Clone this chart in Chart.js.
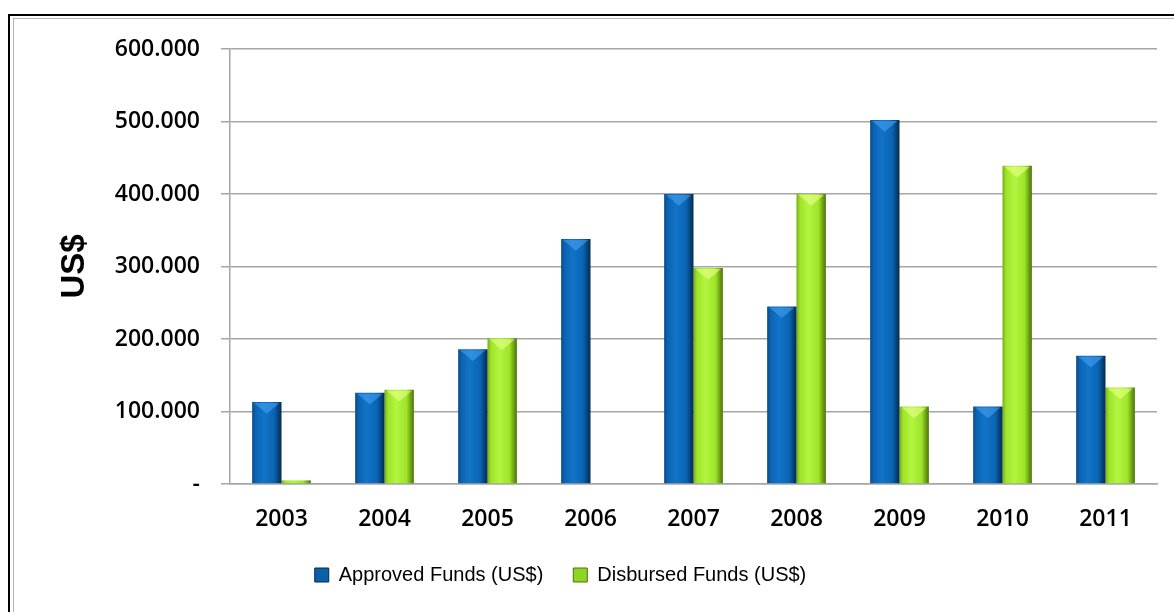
<!DOCTYPE html>
<html>
<head>
<meta charset="utf-8">
<script src="https://cdn.jsdelivr.net/npm/chart.js@4.4.1/dist/chart.umd.min.js"></script>
<style>
	html, body {
		margin: 0;
		padding: 0;
		background: #fff;
		overflow: hidden;
	}
	#frame {
		position: absolute;
		left: 8px;
		top: 14px;
		width: 1300px;
		height: 700px;
		border-left: 2.5px solid #000;
		border-top: 2px solid #000;
	}
	#inner {
		position: absolute;
		left: 3px;
		top: 2px;
		width: 1300px;
		height: 700px;
		border-left: 1px solid #b5b5b5;
		border-top: 1px solid #b5b5b5;
	}
	#wrap {
		position: absolute;
		left: 0;
		top: 0;
		width: 1174px;
		height: 612px;
	}
</style>
</head>
<body>
<div id="frame"><div id="inner"></div></div>
<div id="wrap"><canvas id="data"></canvas></div>
<script>
const years = ["2003", "2004", "2005", "2006", "2007", "2008", "2009", "2010", "2011"];
const approved = [113000, 126000, 186000, 338000, 400000, 245000, 502000, 107000, 177000];
const disbursed = [5000, 130000, 201000, 0, 298000, 400000, 107000, 439000, 133000];
const yTickLabels = ["-", "100.000", "200.000", "300.000", "400.000", "500.000", "600.000"];

const seriesNames = ["Approved Funds (US$)", "Disbursed Funds (US$)"];
const shades = [
	{ dark: "#0a4a84", mid: "#0a64b4", light: "#1274c8", edge: "#052b4b", solid: "#0b60aa" },
	{ dark: "#76ac18", mid: "#9ee428", light: "#b2f640", edge: "#4a7209", solid: "#8fd624" }
];

const catPct = 0.57;

function barGradient(context) {
	const chart = context.chart;
	const x = chart.scales.x;
	if (!x || context.dataIndex === undefined) {
		return shades[context.datasetIndex].solid;
	}
	const cat = x.getPixelForValue(context.dataIndex);
	const step = (x.right - x.left) / years.length;
	const w = (step * catPct) / 2;
	const left = cat - step * catPct / 2 + context.datasetIndex * w;
	const s = shades[context.datasetIndex];
	const g = chart.ctx.createLinearGradient(left, 0, left + w, 0);
	g.addColorStop(0, s.dark);
	g.addColorStop(0.12, s.mid);
	g.addColorStop(0.4, s.light);
	g.addColorStop(0.75, s.mid);
	g.addColorStop(1, s.edge);
	return g;
}

// light bevel at the top of each bar
const bevel = {
	id: "bevel",
	afterDatasetsDraw(chart) {
		const ctx = chart.ctx;
		chart.data.datasets.forEach((ds, di) => {
			chart.getDatasetMeta(di).data.forEach((bar) => {
				const h = bar.base - bar.y;
				if (h < 14) return;
				const l = bar.x - bar.width / 2;
				const r = bar.x + bar.width / 2;
				ctx.save();
				ctx.fillStyle = di === 0 ? "rgba(80,170,250,0.5)" : "rgba(235,255,140,0.6)";
				ctx.beginPath();
				ctx.moveTo(l + 2, bar.y + 1);
				ctx.lineTo(r - 2, bar.y + 1);
				ctx.lineTo(bar.x, bar.y + bar.width * 0.4);
				ctx.closePath();
				ctx.fill();
				ctx.restore();
			});
		});
	}
};

// the legend sits a little left of centre in the original
const legendShift = {
	id: "legendShift",
	afterLayout(chart) {
		chart.legend.left -= 18;
		chart.legend.right -= 18;
	}
};

const tickFont = { family: "Open Sans", size: 23, weight: "600" };

new Chart(document.getElementById("data"), {
	type: "bar",
	plugins: [bevel, legendShift],
	data: {
		labels: years,
		datasets: [
			{
				label: seriesNames[0],
				data: approved,
				backgroundColor: barGradient
			},
			{
				label: seriesNames[1],
				data: disbursed,
				backgroundColor: barGradient
			}
		]
	},
	options: {
		responsive: true,
		maintainAspectRatio: false,
		animation: false,
		barPercentage: 1,
		categoryPercentage: catPct,
		layout: {
			padding: { left: 0, right: 17, top: 49, bottom: 17 }
		},
		scales: {
			x: {
				grid: { display: false },
				border: { display: true, color: "#a6a6a6", width: 1.5 },
				ticks: {
					padding: 14,
					color: "#000",
					font: tickFont
				},
				afterFit: (s) => { s.height = 51; }
			},
			y: {
				min: 0,
				max: 600000,
				grid: {
					color: "#a6a6a6",
					lineWidth: 1.5,
					tickLength: 9
				},
				border: { display: true, color: "#a6a6a6", width: 1.5 },
				ticks: {
					stepSize: 100000,
					padding: 21,
					color: "#000",
					font: tickFont,
					callback: (v, i) => yTickLabels[i]
				},
				title: {
					display: true,
					text: "US$",
					color: "#000",
					padding: { top: 55, bottom: 0 },
					font: { family: "Liberation Sans", size: 33, weight: "bold" }
				},
				afterFit: (s) => { s.width = 230; }
			}
		},
		plugins: {
			tooltip: { enabled: false },
			legend: {
				position: "bottom",
				labels: {
					boxWidth: 14,
					boxHeight: 14,
					padding: 30,
					color: "#000",
					font: { family: "Liberation Sans", size: 20 },
					generateLabels: () => seriesNames.map((name, i) => ({
						text: name,
						fillStyle: shades[i].solid,
						strokeStyle: shades[i].edge,
						lineWidth: 1,
						datasetIndex: i
					}))
				}
			}
		}
	}
});
</script>
</body>
</html>
